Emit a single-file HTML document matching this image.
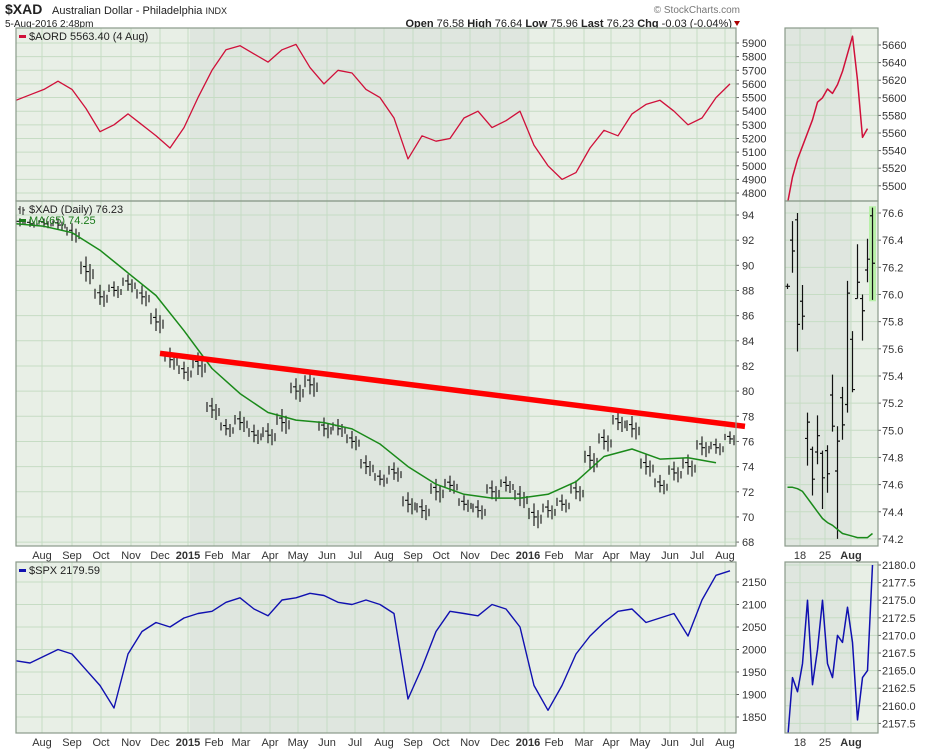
<!DOCTYPE html>
<html><head><meta charset="utf-8"><style>
body{margin:0;background:#fff;width:930px;height:750px;overflow:hidden;font-family:"Liberation Sans",sans-serif}
svg text{font-family:"Liberation Sans",sans-serif}
</style></head><body>
<svg id="c" width="930" height="750" xmlns="http://www.w3.org/2000/svg">
<text x="5" y="14" font-size="14" font-weight="bold" fill="#222">$XAD</text>
<text x="52" y="14" font-size="11" fill="#222">Australian Dollar - Philadelphia <tspan font-size="9">INDX</tspan></text>
<text x="5" y="27" font-size="10" fill="#222">5-Aug-2016 2:48pm</text>
<text x="740" y="13" font-size="10" fill="#777" text-anchor="end">© StockCharts.com</text>
<text x="732" y="27" font-size="11" fill="#222" text-anchor="end"><tspan font-weight="bold">Open</tspan> 76.58 <tspan font-weight="bold">High</tspan> 76.64 <tspan font-weight="bold">Low</tspan> 75.96 <tspan font-weight="bold">Last</tspan> 76.23 <tspan font-weight="bold">Chg</tspan> -0.03 (-0.04%)</text>
<path d="M734,21 l6,0 l-3,5z" fill="#a00"/>
</svg>
<script>
// ===== data =====
const aordVals=[5480,5520,5560,5620,5560,5420,5250,5300,5380,5300,5220,5130,5280,5500,5700,5850,5880,5820,5760,5850,5890,5720,5600,5700,5680,5560,5500,5350,5050,5220,5180,5200,5350,5400,5280,5330,5400,5150,5000,4900,4950,5130,5260,5220,5380,5450,5480,5400,5300,5350,5500,5600];
const xadClose=[93.5,93.3,93.3,93.2,92.5,89.5,87.5,88,88.5,87.5,85.5,82.5,81.5,82,78.5,77,77.5,76.5,76.5,77.5,80,80.5,77,77,76,74,73,73.5,71,70.5,72,72.5,71,70.5,72,72.5,71.5,70,70.5,71,72,74.5,76,77.5,77,74,72.5,73.5,74,75.5,75.5,76.2];
const xadSpread=[0.8,0.6,0.7,0.9,1.4,2,1.6,1.2,1.3,1.5,1.8,1.6,1.4,1.8,1.6,1.3,1.5,1.4,1.6,1.8,1.7,1.9,1.5,1.3,1.4,1.5,1.2,1.4,1.6,1.5,1.7,1.3,1.2,1.4,1.5,1.2,1.6,1.8,1.4,1.3,1.5,1.9,1.6,1.5,1.7,1.6,1.4,1.5,1.6,1.5,1.2,1.0];
const maVals=[93.3,93.1,92.6,91.2,89.4,87.6,84.8,81.8,79.8,78.3,77.7,77.5,77.0,75.8,74.0,72.6,71.8,71.5,71.5,71.8,72.8,74.8,75.4,74.6,74.7,74.3];
const trendVals=[83.0,77.2];
const spxVals=[1975,1970,1985,2000,1990,1955,1920,1870,1990,2040,2060,2050,2070,2080,2085,2105,2115,2090,2075,2110,2115,2125,2120,2105,2100,2110,2100,2080,1890,1960,2040,2085,2080,2075,2100,2090,2050,1920,1865,1920,1990,2030,2060,2085,2090,2060,2070,2080,2030,2110,2165,2175];
const monthLabels=["Aug","Sep","Oct","Nov","Dec","2015","Feb","Mar","Apr","May","Jun","Jul","Aug","Sep","Oct","Nov","Dec","2016","Feb","Mar","Apr","May","Jun","Jul","Aug"];
const aordTicks=[4800,4900,5000,5100,5200,5300,5400,5500,5600,5700,5800,5900];
const xadTicks=[68,70,72,74,76,78,80,82,84,86,88,90,92,94];
const spxTicks=[1850,1900,1950,2000,2050,2100,2150];
// mini panels
const miniAord=[5480,5510,5530,5545,5560,5575,5595,5600,5610,5605,5615,5630,5650,5670,5620,5555,5565];
const miniOpen=[76.06,76.4,76.55,75.95,74.94,74.86,74.84,74.83,74.85,75.26,74.7,75.24,75.19,75.67,75.97,75.97,76.18,76.58];
const miniHigh=[76.08,76.54,76.6,76.07,75.13,74.88,75.11,74.85,74.89,75.41,75.03,75.32,76.1,75.73,76.37,76.0,76.41,76.64];
const miniLow=[76.04,76.16,75.58,75.74,74.74,74.52,74.75,74.42,74.54,74.99,74.2,74.93,75.13,75.28,75.97,75.66,76.09,75.96];
const miniClose=[76.06,76.32,75.78,75.84,75.06,74.64,74.96,74.65,74.68,75.03,74.92,75.04,76.01,75.3,76.09,75.88,76.26,76.23];
const miniMa=[74.58,74.58,74.57,74.55,74.5,74.45,74.4,74.35,74.32,74.3,74.27,74.24,74.23,74.22,74.21,74.21,74.21,74.24];
const miniSpx=[2155,2164,2162,2166,2175,2163,2168,2175,2166,2164,2170,2169,2174,2169,2158,2164,2165,2180];
const miniDayLabels=["18","25","Aug"];
const miniAordTicks=[5500,5520,5540,5560,5580,5600,5620,5640,5660];
const miniXadTicks=[74.2,74.4,74.6,74.8,75.0,75.2,75.4,75.6,75.8,76.0,76.2,76.4,76.6];
const miniSpxTicks=[2157.5,2160,2162.5,2165,2167.5,2170,2172.5,2175,2177.5,2180];

const svg=document.getElementById('c');
const NS="http://www.w3.org/2000/svg";
function mk(tag,attrs,parent){const e=document.createElementNS(NS,tag);for(const k in attrs)e.setAttribute(k,attrs[k]);(parent||svg).appendChild(e);return e;}
// axis functions
const X0=16,X1=736,MX0=785,MX1=878;
const monthX=[42,72,101,131,160,188,214,241,270,298,327,355,384,413,441,470,500,528,554,584,611,640,670,697,725];
const xMain=i=>16+i*14;
const xMa=i=>16+i*28;
const xMini=i=>787.5+i*5;
const P1={t:28,b:201},P2={t:201,b:546},P3={t:562,b:733};
const yA=v=>43+(5900-v)*0.1364;
const yX=v=>215+(94-v)*12.58;
const yS=v=>582+(2150-v)*0.45;
const yMA=v=>45+(5660-v)*0.88;
const yMX=v=>213+(76.6-v)*135.8;
const yMS=v=>565+(2180-v)*7.04;

function panel(x0,x1,p,shade,name){
  const r=mk('rect',{x:x0,y:p.t,width:x1-x0,height:p.b-p.t,fill:'#e8efe6'});
  
  
  const s=mk('rect',{x:shade[0],y:p.t,width:shade[1]-shade[0],height:p.b-p.t,fill:'#dfe6df'});
  
  
}
function frame(x0,x1,p,name){
  const r=mk('rect',{x:x0,y:p.t,width:x1-x0,height:p.b-p.t,fill:'none',stroke:'#8a9a8a','stroke-width':1.2});
  
  
}
function hgrid(x0,x1,ticks,yf,p,labx,fmt,name){
  ticks.forEach(t=>{const y=yf(t);
    const l=mk('line',{x1:x0,x2:x1,y1:y,y2:y,stroke:'#c6dcc4','stroke-width':1});
    
    
    const tx=mk('text',{x:labx,y:y+4,'font-size':11,fill:'#333'});tx.textContent=fmt(t);
    
    
    mk('line',{x1:x1,x2:x1+3,y1:y,y2:y,stroke:'#666'});
  });
}
function vgrid(xs,p,name){
  xs.forEach(x=>{const l=mk('line',{x1:x,x2:x,y1:p.t,y2:p.b,stroke:'#c6dcc4','stroke-width':1});
    
    });
}
function line(vals,xf,yf,color,w,name){
  const d=vals.map((v,i)=>(i?'L':'M')+xf(i).toFixed(1)+','+yf(v).toFixed(1)).join('');
  const p=mk('path',{d:d,fill:'none',stroke:color,'stroke-width':w,'stroke-linejoin':'round'});
  
  
  return p;
}
const miniGridX=[800,825,851];
// panels
[P1,P2,P3].forEach((p,k)=>{
  const nm=['aord-panel','xad-panel','spx-panel'][k];
  panel(X0,X1,p,[190,530],nm);
  panel(MX0,MX1,p,[MX0,851],'mini-'+nm);
  vgrid(monthX,p,nm);vgrid(miniGridX,p,'mini-'+nm);
});
hgrid(X0,X1,aordTicks,yA,P1,742,v=>v,'aord-axis');
hgrid(X0,X1,xadTicks,yX,P2,742,v=>v,'xad-axis');
hgrid(X0,X1,spxTicks,yS,P3,742,v=>v,'spx-axis');
hgrid(MX0,MX1,miniAordTicks,yMA,P1,882,v=>v,'mini-aord-axis');
hgrid(MX0,MX1,miniXadTicks,yMX,P2,882,v=>v.toFixed(1),'mini-xad-axis');
hgrid(MX0,MX1,miniSpxTicks,yMS,P3,882,v=>v.toFixed(1),'mini-spx-axis');
// month labels
[555,742].forEach((yy,k)=>{
  monthLabels.forEach((m,i)=>{const t=mk('text',{x:monthX[i],y:yy+4,'font-size':11,fill:'#333','text-anchor':'middle','font-weight':m.length===4?'bold':'normal'});t.textContent=m;
    
    });
  miniDayLabels.forEach((m,i)=>{const t=mk('text',{x:miniGridX[i],y:yy+4,'font-size':11,fill:'#333','text-anchor':'middle','font-weight':m==='Aug'?'bold':'normal'});t.textContent=m;
    
    });
});
// clip paths
const defs=mk('defs',{});
function clip(id,x0,x1,p){const c=mk('clipPath',{id:id},defs);mk('rect',{x:x0,y:p.t,width:x1-x0,height:p.b-p.t},c);}
clip('c1',X0,X1,P1);clip('c2',X0,X1,P2);clip('c3',X0,X1,P3);
clip('m1',MX0,MX1,P1);clip('m2',MX0,MX1,P2);clip('m3',MX0,MX1,P3);
// AORD
line(aordVals,xMain,yA,'#d0103a',1.3,'aord-line').setAttribute('clip-path','url(#c1)');
line(miniAord,xMini,yMA,'#d0103a',1.5,'mini-aord-line').setAttribute('clip-path','url(#m1)');
// XAD bars
const gX=mk('g',{'clip-path':'url(#c2)'});


xadClose.forEach((c,i)=>{const x=xMain(i),s=xadSpread[i];
  const b=mk('path',{d:`M${x},${yX(c+s*0.6)}V${yX(c-s*0.4)}M${x-3},${yX(c+s*0.2)}h3M${x},${yX(c)}h3M${x+4},${yX(c+s*0.3)}V${yX(c-s*0.5)}M${x-5},${yX(c-s*0.1)}V${yX(c+s*0.4)}M${x+7},${yX(c+s*0.1)}V${yX(c-s*0.3)}`,stroke:'#111','stroke-width':1.1,fill:'none'},gX);
  
  });
line(maVals,xMa,yX,'#1a8a1a',1.5,'xad-ma65-line').setAttribute('clip-path','url(#c2)');
// trend line
const tl=mk('line',{x1:160,y1:yX(trendVals[0]),x2:745,y2:yX(trendVals[1]),stroke:'#ff0000','stroke-width':5.5,'stroke-linecap':'butt'});


// mini XAD
mk('rect',{x:xMini(17)-3.5,y:yMX(76.65),width:7,height:yMX(75.95)-yMX(76.65),fill:'#b8f0a8'});
const gM=mk('g',{'clip-path':'url(#m2)'});


miniClose.forEach((c,i)=>{const x=xMini(i);
  const b=mk('path',{d:`M${x},${yMX(miniHigh[i])}V${yMX(miniLow[i])}M${x-2.5},${yMX(miniOpen[i])}h2.5M${x},${yMX(c)}h2.5`,stroke:'#111','stroke-width':1.2,fill:'none'},gM);
  
  });
line(miniMa,xMini,yMX,'#1a8a1a',1.5,'mini-ma65-line').setAttribute('clip-path','url(#m2)');
// SPX
line(spxVals,xMain,yS,'#1010b0',1.4,'spx-line').setAttribute('clip-path','url(#c3)');
line(miniSpx,xMini,yMS,'#1010b0',1.5,'mini-spx-line').setAttribute('clip-path','url(#m3)');
// frames
[P1,P2,P3].forEach((p,k)=>{frame(X0,X1,p,'main-'+k);frame(MX0,MX1,p,'mini-'+k);});
// legends
function legend(x,y,color,txt,name,icon){
  if(icon){mk('path',{d:`M${x},${y-7}v8M${x-2},${y-4}h2M${x+3},${y-6}v8M${x+3},${y-3}h2`,stroke:'#222','stroke-width':1,fill:'none'});}
  else{mk('rect',{x:x-1,y:y-5,width:7,height:3,fill:color});}
  const t=mk('text',{x:x+9,y:y,'font-size':11,fill:color==='#d0103a'||color==='#1010b0'?'#222':color});t.textContent=txt;
  
  
}
legend(20,40,'#d0103a','$AORD 5563.40 (4 Aug)','aord-legend');
legend(20,213,'#222','$XAD (Daily) 76.23','xad-legend',true);
legend(20,224,'#1a7a1a','MA(65) 74.25','ma-legend');
legend(20,574,'#1010b0','$SPX 2179.59','spx-legend');
</script>
</body></html>
